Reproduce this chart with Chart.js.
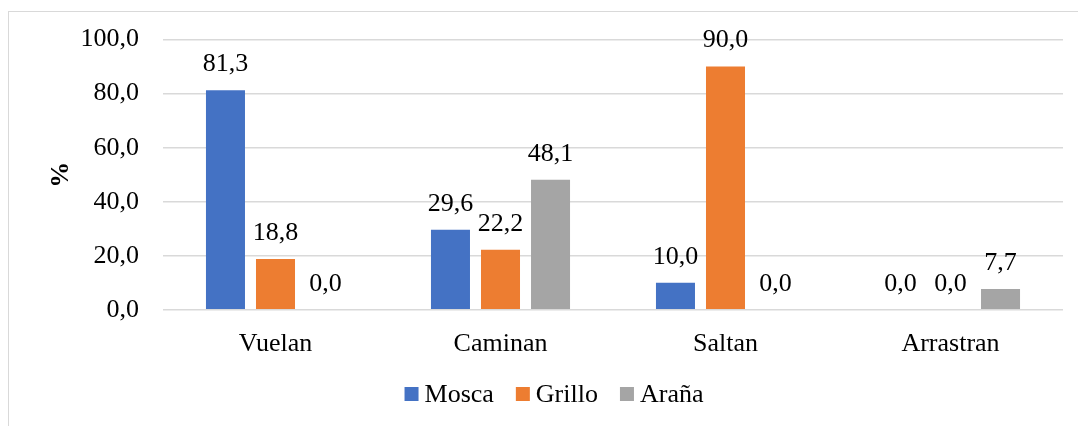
<!DOCTYPE html>
<html>
<head>
<meta charset="utf-8">
<script src="https://cdn.jsdelivr.net/npm/chart.js@4.4.1/dist/chart.umd.min.js"></script>
<style>
    html, body { margin: 0; padding: 0; background: #fff; }
    #wrap { position: relative; width: 1078px; height: 426px; overflow: hidden; }
    #frame { position: absolute; left: 8px; top: 11px; width: 1200px; height: 500px; border-left: 1px solid #d9d9d9; border-top: 1px solid #d9d9d9; }
    canvas { position: absolute; left: 0; top: 0; }
</style>
</head>
<body>
<div id="wrap">
    <div id="frame"></div>
    <canvas id="movementChart" width="1078" height="426"></canvas>
</div>
<script>
    // Tipo de desplazamiento por especie (%)
    const categories = ['Vuelan', 'Caminan', 'Saltan', 'Arrastran'];
    const mosca = [81.3, 29.6, 10.0, 0.0];
    const grillo = [18.8, 22.2, 90.0, 0.0];
    const arana = [0.0, 48.1, 0.0, 7.7];
    const yTicks = [0, 20, 40, 60, 80, 100];

    const serif = "'Liberation Serif', 'Times New Roman', serif";
    const fmt = v => Number(v).toFixed(1).replace('.', ',');

    // etiquetas de valor sobre cada barra
    const valueLabels = {
        id: 'valueLabels',
        afterDatasetsDraw(chart) {
            const ctx = chart.ctx;
            ctx.save();
            ctx.font = '26px ' + serif;
            ctx.fillStyle = '#000';
            ctx.textAlign = 'center';
            ctx.textBaseline = 'middle';
            chart.data.datasets.forEach((ds, i) => {
                chart.getDatasetMeta(i).data.forEach((bar, j) => {
                    ctx.fillText(fmt(ds.data[j]), bar.x, bar.y - 26);
                });
            });
            ctx.restore();
        }
    };

    // leyenda compacta abajo (cuadro pegado al texto)
    const bottomLegend = {
        id: 'bottomLegend',
        afterDraw(chart) {
            const ctx = chart.ctx;
            const box = 14, gap = 6, spacing = 22, cx = 554, cy = 394;
            ctx.save();
            ctx.font = '26px ' + serif;
            ctx.textBaseline = 'middle';
            ctx.textAlign = 'left';
            const items = chart.data.datasets.map(ds => ({
                text: ds.label, color: ds.backgroundColor, w: ctx.measureText(ds.label).width
            }));
            const total = items.reduce((s, it) => s + box + gap + it.w, 0) + spacing * (items.length - 1);
            let x = cx - total / 2;
            items.forEach(it => {
                ctx.fillStyle = it.color;
                ctx.fillRect(x, cy - box / 2, box, box);
                ctx.fillStyle = '#000';
                ctx.fillText(it.text, x + box + gap, cy + 1);
                x += box + gap + it.w + spacing;
            });
            ctx.restore();
        }
    };

    const ctx = document.getElementById('movementChart').getContext('2d');

    new Chart(ctx, {
        type: 'bar',
        data: {
            labels: categories,
            datasets: [
                { label: 'Mosca', data: mosca, backgroundColor: '#4472C4' },
                { label: 'Grillo', data: grillo, backgroundColor: '#ED7D31' },
                { label: 'Araña', data: arana, backgroundColor: '#A5A5A5' }
            ]
        },
        options: {
            responsive: false,
            animation: false,
            datasets: {
                bar: { categoryPercentage: 0.667, barPercentage: 0.78 }
            },
            layout: {
                padding: { left: 42, right: 15, top: 35, bottom: 55 }
            },
            plugins: {
                legend: { display: false },
                tooltip: { enabled: false }
            },
            scales: {
                y: {
                    min: 0,
                    max: 100,
                    afterBuildTicks: scale => { scale.ticks = yTicks.map(v => ({ value: v })); },
                    afterFit: scale => { scale.width = 121; },
                    grid: { color: '#d9d9d9', lineWidth: 1.5, drawTicks: false },
                    border: { display: false },
                    ticks: {
                        padding: 24,
                        color: '#000',
                        font: { family: serif, size: 26 },
                        callback: v => fmt(v)
                    },
                    title: {
                        display: true,
                        text: '%',
                        color: '#000',
                        font: { family: serif, size: 26, weight: 'bold' }
                    }
                },
                x: {
                    grid: { display: false },
                    border: { display: false },
                    ticks: {
                        padding: 11,
                        color: '#000',
                        font: { family: serif, size: 26 }
                    }
                }
            }
        },
        plugins: [valueLabels, bottomLegend]
    });
</script>
</body>
</html>
